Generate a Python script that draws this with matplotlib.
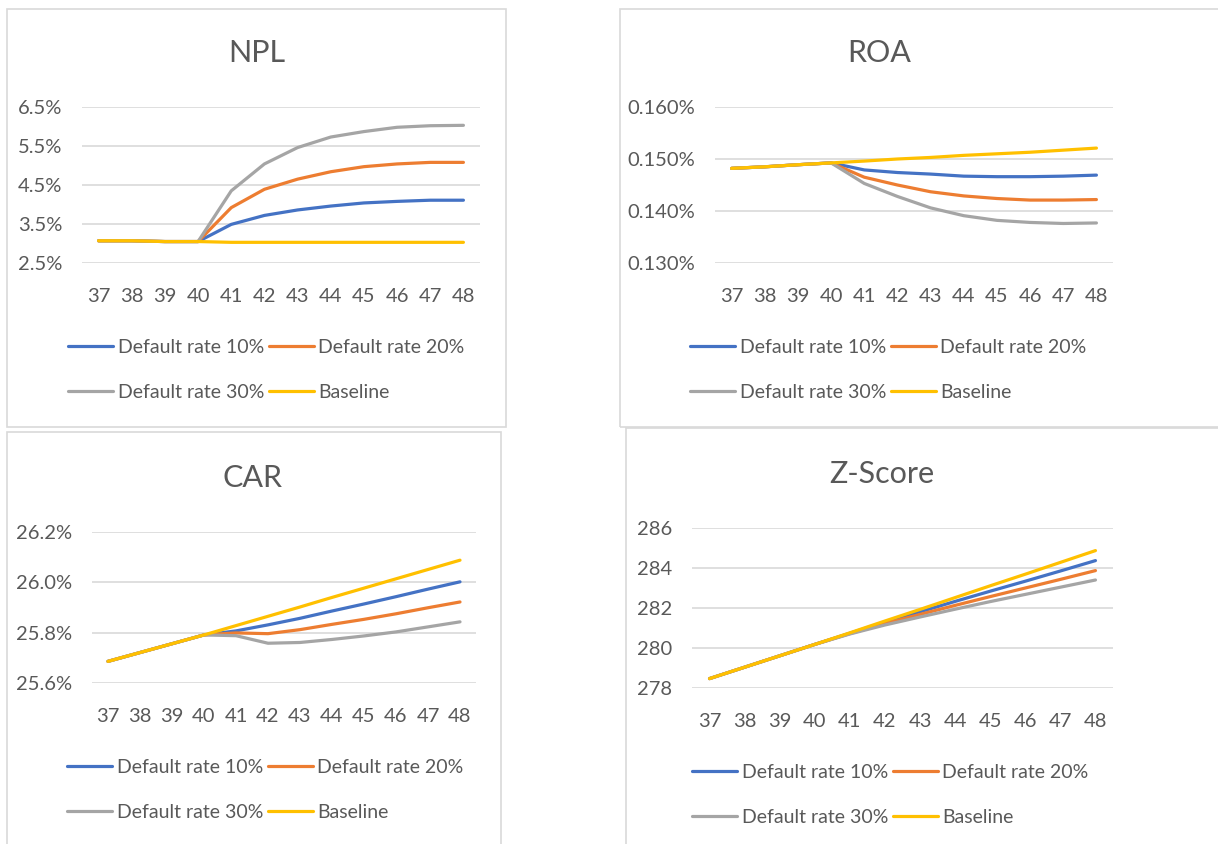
import matplotlib
matplotlib.use("Agg")
import matplotlib.pyplot as plt
from matplotlib.patches import Rectangle
from matplotlib.ticker import FuncFormatter

plt.rcParams['font.family'] = ['Lato', 'DejaVu Sans']

periods = [37, 38, 39, 40, 41, 42, 43, 44, 45, 46, 47, 48]
series_names = ["Default rate 10%", "Default rate 20%", "Default rate 30%", "Baseline"]

npl_10 = [3.07, 3.07, 3.05, 3.05, 3.49, 3.72, 3.86, 3.96, 4.04, 4.08, 4.11, 4.11]
npl_20 = [3.07, 3.07, 3.05, 3.05, 3.92, 4.39, 4.65, 4.84, 4.97, 5.04, 5.08, 5.08]
npl_30 = [3.07, 3.07, 3.05, 3.05, 4.35, 5.04, 5.46, 5.73, 5.87, 5.98, 6.02, 6.03]
npl_base = [3.07, 3.07, 3.05, 3.05, 3.03, 3.03, 3.03, 3.03, 3.03, 3.03, 3.03, 3.03]

roa_10 = [0.1482, 0.1485, 0.1489, 0.14925, 0.1479, 0.1474, 0.1471, 0.1467, 0.1466, 0.1466, 0.1467, 0.1469]
roa_20 = [0.1482, 0.1485, 0.1489, 0.14925, 0.1465, 0.1450, 0.1437, 0.1429, 0.1424, 0.1421, 0.1421, 0.1422]
roa_30 = [0.1482, 0.1485, 0.1489, 0.14925, 0.1453, 0.1428, 0.1406, 0.1391, 0.1382, 0.1378, 0.1376, 0.1377]
roa_base = [0.1482, 0.1485, 0.1489, 0.14925, 0.1496, 0.1500, 0.1503, 0.1507, 0.1510, 0.1513, 0.1517, 0.1521]

car_10 = [25.686, 25.721, 25.756, 25.791, 25.807, 25.831, 25.857, 25.886, 25.914, 25.943, 25.973, 26.002]
car_20 = [25.686, 25.721, 25.756, 25.791, 25.799, 25.796, 25.812, 25.833, 25.853, 25.875, 25.899, 25.922]
car_30 = [25.686, 25.721, 25.756, 25.791, 25.788, 25.758, 25.761, 25.773, 25.787, 25.803, 25.823, 25.843]
car_base = [25.686, 25.721, 25.756, 25.791, 25.828, 25.865, 25.902, 25.940, 25.977, 26.014, 26.051, 26.088]

z_10 = [278.47, 279.04, 279.61, 280.18, 280.74, 281.29, 281.81, 282.33, 282.84, 283.34, 283.85, 284.37]
z_20 = [278.47, 279.04, 279.61, 280.18, 280.72, 281.22, 281.68, 282.13, 282.57, 283.00, 283.43, 283.87]
z_30 = [278.47, 279.04, 279.61, 280.18, 280.70, 281.15, 281.55, 281.94, 282.32, 282.68, 283.04, 283.40]
z_base = [278.47, 279.04, 279.61, 280.18, 280.76, 281.35, 281.93, 282.52, 283.11, 283.69, 284.28, 284.87]

colors = ["#4472C4", "#ED7D31", "#A5A5A5", "#FFC000"]
text_color = "#595959"
grid_color = "#D9D9D9"

W, H = 1218, 844
fig = plt.figure(figsize=(W / 100, H / 100), dpi=100)


def frac_rect(l, t, r, b):
    return [l / W, 1 - b / H, (r - l) / W, (b - t) / H]


panels = [
    dict(title="NPL", data=[npl_10, npl_20, npl_30, npl_base], box=(7, 9, 506, 427),
         ax=(82, 107, 480, 263), ylim=(2.5, 6.5), yticks=[2.5, 3.5, 4.5, 5.5, 6.5],
         fmt=lambda v, p: f"{v:.1f}%", title_xy=(257, 53), leg=(68, 339)),
    dict(title="ROA", data=[roa_10, roa_20, roa_30, roa_base], box=(620, 9, 1240, 427),
         ax=(715, 107, 1113, 263), ylim=(0.130, 0.160), yticks=[0.130, 0.140, 0.150, 0.160],
         fmt=lambda v, p: f"{v:.3f}%", title_xy=(879, 53), leg=(690, 339)),
    dict(title="CAR", data=[car_10, car_20, car_30, car_base], box=(7, 432, 501, 870),
         ax=(92, 532, 476, 683), ylim=(25.6, 26.2), yticks=[25.6, 25.8, 26.0, 26.2],
         fmt=lambda v, p: f"{v:.1f}%", title_xy=(253, 478), leg=(67, 759)),
    dict(title="Z-Score", data=[z_10, z_20, z_30, z_base], box=(626, 428, 1240, 870),
         ax=(692, 528, 1113, 688), ylim=(278, 286), yticks=[278, 280, 282, 284, 286],
         fmt=lambda v, p: f"{v:.0f}", title_xy=(882, 474), leg=(692, 764)),
]

# legend laid out row by row: (10%, 20%) then (30%, Baseline)
leg_order = [0, 2, 1, 3]

for pnl in panels:
    l, t, r, b = pnl["box"]
    fig.patches.append(Rectangle((l / W, 1 - b / H), (r - l) / W, (b - t) / H,
                                 transform=fig.transFigure, fill=False,
                                 edgecolor=grid_color, linewidth=1.2))
    ax = fig.add_axes(frac_rect(*pnl["ax"]))
    lines = []
    for vals, c in zip(pnl["data"], colors):
        ln, = ax.plot(periods, vals, color=c, linewidth=2.3, solid_capstyle='round')
        lines.append(ln)
    ax.set_xlim(36.5, 48.5)
    ax.set_ylim(*pnl["ylim"])
    ax.set_yticks(pnl["yticks"])
    ax.set_xticks(periods)
    ax.set_xticklabels([str(p) for p in periods])
    ax.yaxis.set_major_formatter(FuncFormatter(pnl["fmt"]))
    ax.grid(axis='y', color=grid_color, linewidth=1.2)
    ax.set_axisbelow(True)
    for s in ax.spines.values():
        s.set_visible(False)
    ax.tick_params(axis='both', length=0, labelsize=14.5, colors=text_color)
    ax.tick_params(axis='x', pad=18)
    ax.tick_params(axis='y', pad=14)
    fig.text(pnl["title_xy"][0] / W, 1 - pnl["title_xy"][1] / H, pnl["title"],
             ha='center', va='center', fontsize=22, color=text_color)
    lx, ly = pnl["leg"]
    leg = ax.legend([lines[i] for i in leg_order], [series_names[i] for i in leg_order],
                    ncol=2, loc='upper left',
                    bbox_to_anchor=(lx / W, 1 - ly / H), bbox_transform=fig.transFigure,
                    frameon=False, fontsize=14, handlelength=2.3, handletextpad=0.25,
                    columnspacing=0.25, labelspacing=1.42, borderpad=0, borderaxespad=0)
    for txt in leg.get_texts():
        txt.set_color(text_color)

fig.savefig("out.png", dpi=100)
